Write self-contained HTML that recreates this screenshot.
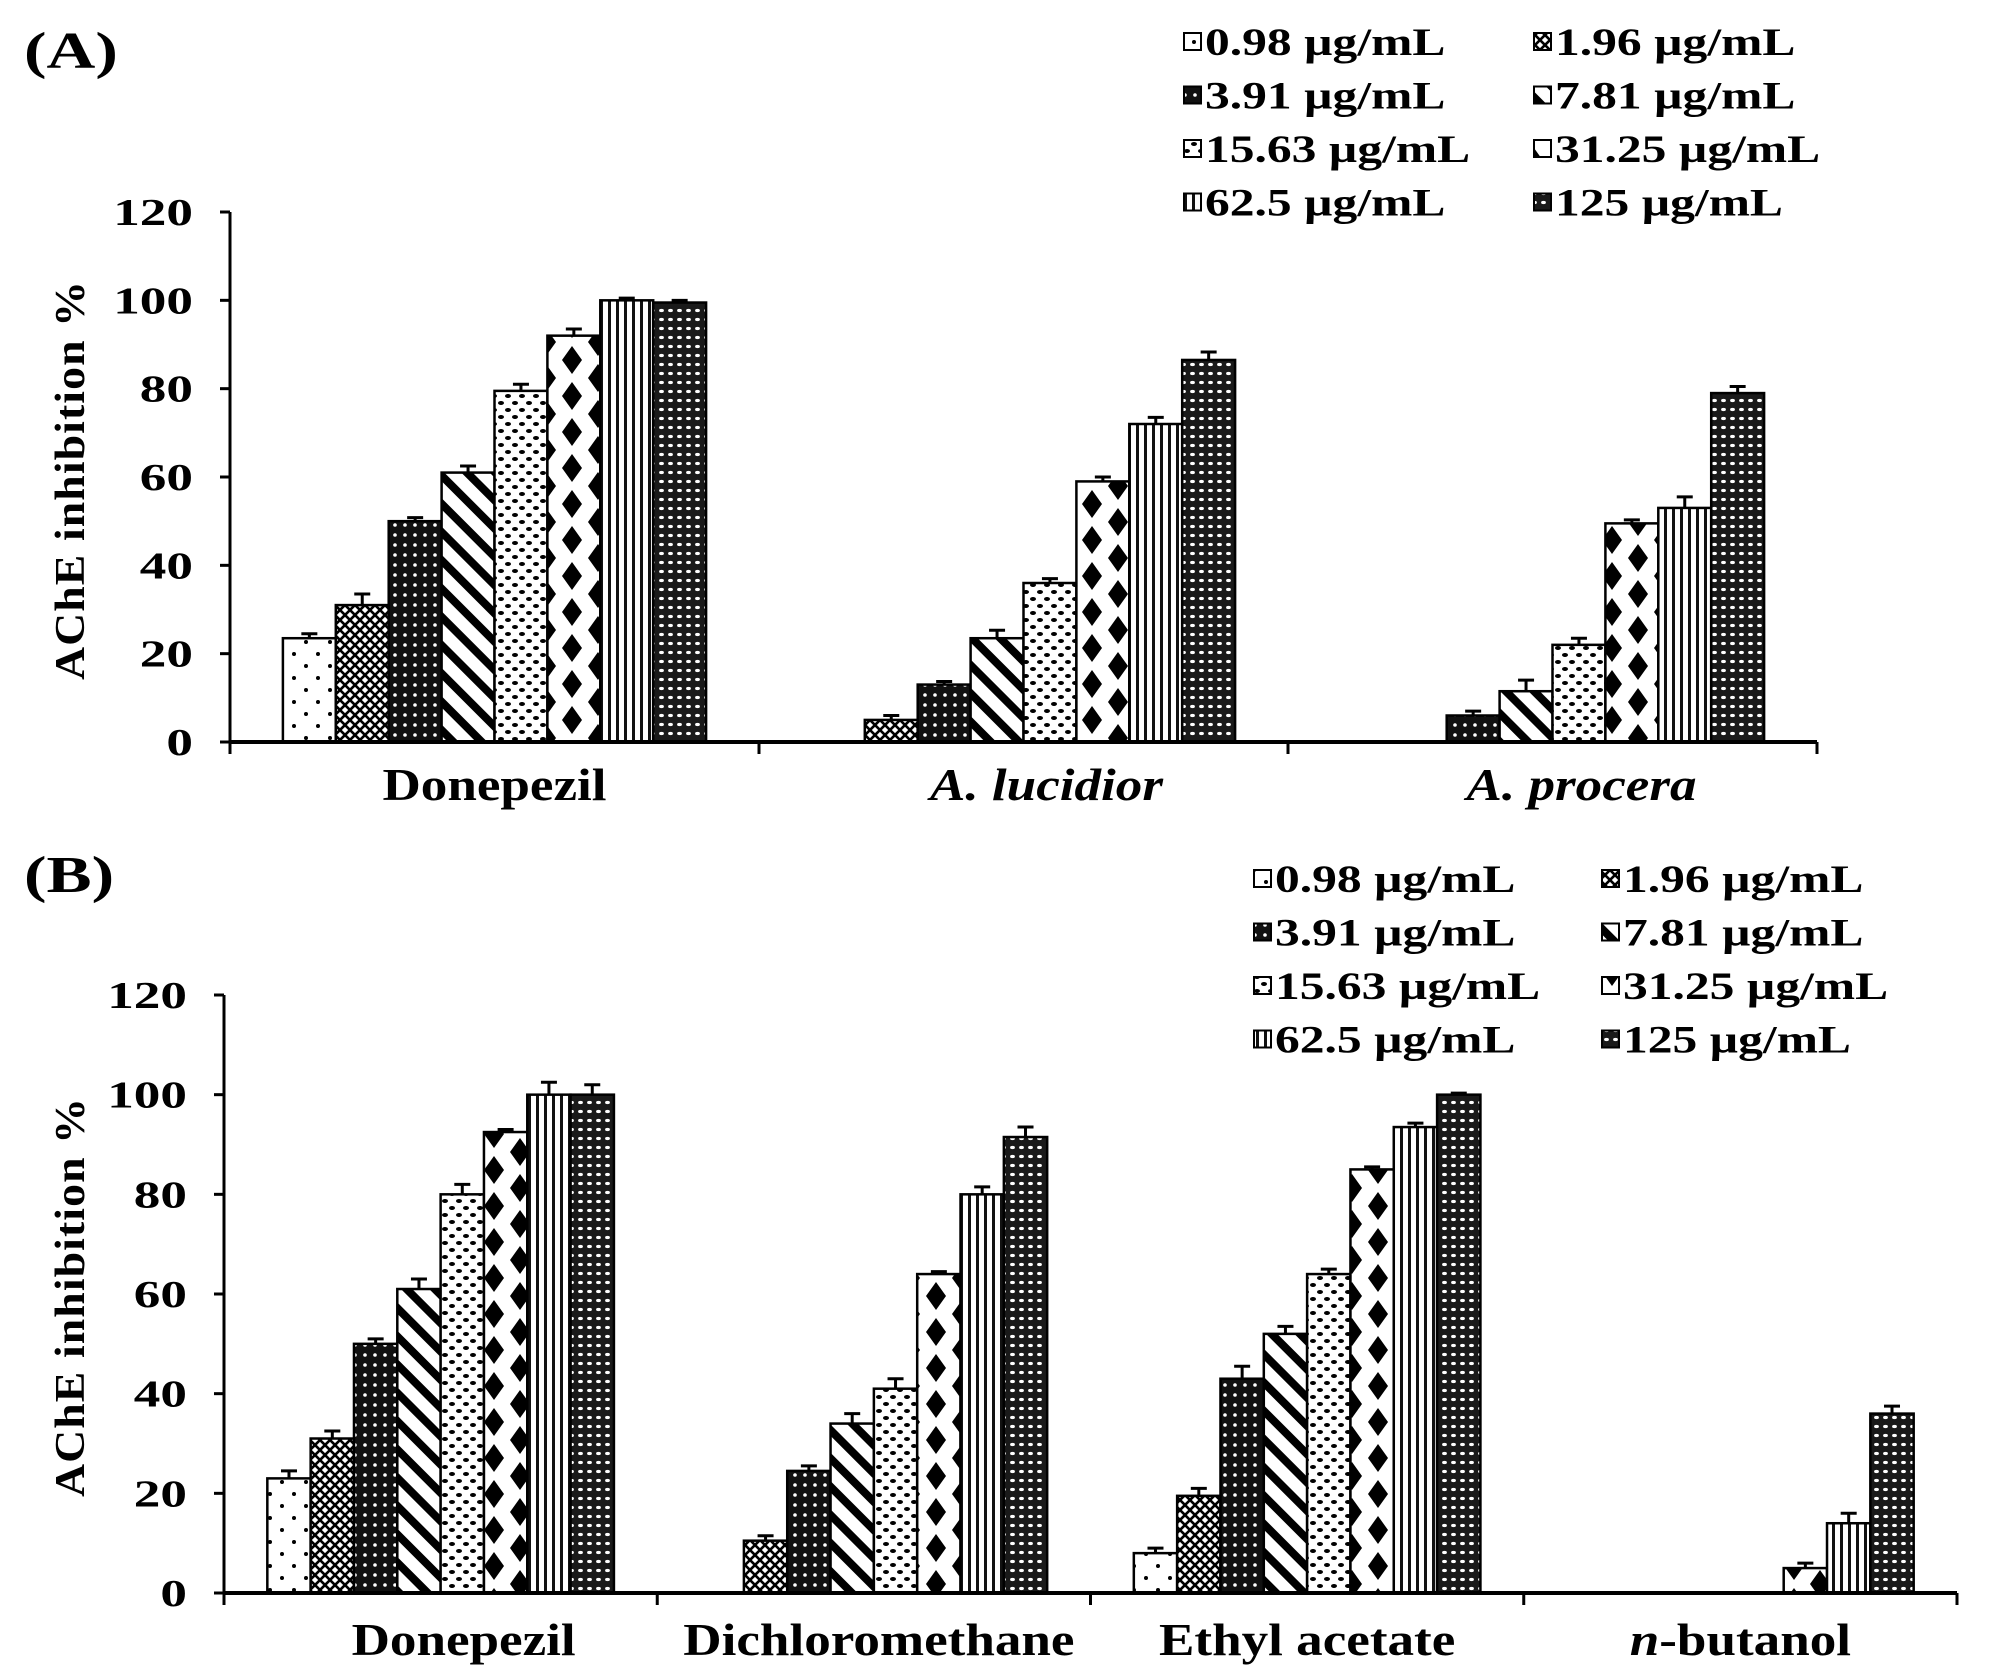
<!DOCTYPE html>
<html><head><meta charset="utf-8"><style>
html,body{margin:0;padding:0;background:#fff;}
svg{display:block;font-family:"Liberation Serif",serif;font-weight:bold;}
</style></head><body>
<svg id="chart" width="1989" height="1674" viewBox="0 0 1989 1674" xmlns="http://www.w3.org/2000/svg">
<defs>
 <pattern id="p0" width="24" height="24" patternUnits="userSpaceOnUse"><rect width="24" height="24" fill="#fff"/><circle cx="6" cy="6" r="2" fill="#000"/><circle cx="18" cy="18" r="2" fill="#000"/></pattern>
 <pattern id="p1" width="10" height="10" patternUnits="userSpaceOnUse"><rect width="10" height="10" fill="#fff"/><path d="M0,0L10,10M10,0L0,10" stroke="#000" stroke-width="2.6"/></pattern>
 <pattern id="p2" width="10" height="10" patternUnits="userSpaceOnUse"><rect width="10" height="10" fill="#111"/><circle cx="5" cy="5" r="1.8" fill="#fff"/></pattern>
 <pattern id="p3" width="20" height="20" patternUnits="userSpaceOnUse" patternTransform="rotate(45)"><rect width="20" height="20" fill="#fff"/><rect x="0" y="0" width="20" height="8" fill="#000"/></pattern>
 <pattern id="p4" width="14" height="14" patternUnits="userSpaceOnUse"><rect width="14" height="14" fill="#fff"/><ellipse cx="4" cy="4" rx="3" ry="2" fill="#000"/><ellipse cx="11" cy="11" rx="3" ry="2" fill="#000"/></pattern>
 <pattern id="p5" width="52" height="36" patternUnits="userSpaceOnUse"><rect width="52" height="36" fill="#fff"/><path d="M26,4L36,18L26,32L16,18Z" fill="#000"/><path d="M0,-14L10,0L0,14ZM52,-14L42,0L52,14ZM0,22L10,36L0,50ZM52,22L42,36L52,50Z" fill="#000"/></pattern>
 <pattern id="p6" width="8" height="8" patternUnits="userSpaceOnUse"><rect width="8" height="8" fill="#fff"/><rect x="0" width="3" height="8" fill="#111"/></pattern>
 <pattern id="p7" width="9" height="9" patternUnits="userSpaceOnUse"><rect width="9" height="9" fill="#1a1a1a"/><ellipse cx="4.5" cy="4.5" rx="2.4" ry="1.6" fill="#fff"/></pattern>
</defs>
<g id="layer"></g>
</svg>
<script>
const seriesLabels = ["0.98 µg/mL","1.96 µg/mL","3.91 µg/mL","7.81 µg/mL","15.63 µg/mL","31.25 µg/mL","62.5 µg/mL","125 µg/mL"];
const yTicks = [0,20,40,60,80,100,120];
const catsA = ["Donepezil","A. lucidior","A. procera"];
const valsA_donepezil = [23.5,31,50,61,79.5,92,100,99.5];
const valsA_lucidior = [0,5,13,23.5,36,59,72,86.5];
const valsA_procera = [0,0,6,11.5,22,49.5,53,79];
const errA_donepezil = [1,2.5,0.8,1.5,1.5,1.5,0.5,0.5];
const errA_lucidior = [0,1,0.7,1.8,1,1,1.5,1.8];
const errA_procera = [0,0,1,2.5,1.5,0.8,2.5,1.5];
const catsB = ["Donepezil","Dichloromethane","Ethyl acetate","n-butanol"];
const valsB_donepezil = [23,31,50,61,80,92.5,100,100];
const valsB_dcm = [0,10.5,24.5,34,41,64,80,91.5];
const valsB_ea = [8,19.5,43,52,64,85,93.5,100];
const valsB_but = [0,0,0,0,0,5,14,36];
const errB_donepezil = [1.5,1.5,1,2,2,0.5,2.5,2];
const errB_dcm = [0,1,1,2,2,0.5,1.5,2];
const errB_ea = [1,1.5,2.5,1.5,1,0.5,0.8,0.3];
const errB_but = [0,0,0,0,0,1,2,1.5];

const NS="http://www.w3.org/2000/svg";
const layer=document.getElementById('layer');
function mk(tag,attrs,parent){const e=document.createElementNS(NS,tag);for(const k in attrs)e.setAttribute(k,attrs[k]);(parent||layer).appendChild(e);return e;}
function stxt(parent,x,y,anchor,size,sx){return mk('text',{x:0,y:0,transform:`translate(${x},${y}) scale(${sx},1)`,'text-anchor':anchor,'font-size':size},parent);}

function panel(cfg){
  const g=mk('g',{});
  
  
  const yScale=v=>cfg.y0-(v/120)*(cfg.y0-cfg.y120);
  const gw=(cfg.x1-cfg.x0)/cfg.cats.length;
  const bw=gw*0.1;
  cfg.vals.forEach((arr,ci)=>{
    const start=cfg.x0+gw*ci+gw*0.1;
    arr.forEach((v,si)=>{
      if(v<=0)return;
      const x=start+si*bw, y=yScale(v);
      const r=mk('rect',{x:x,y:y,width:bw,height:cfg.y0-y,fill:'url(#p'+si+')',stroke:'#000','stroke-width':2.5},g);
      
      
      const e=cfg.errs[ci][si];
      if(e>0){
        const ye=yScale(v+e);
        const eb=mk('path',{d:`M${x+bw/2},${y}V${ye}M${x+bw/2-8},${ye}H${x+bw/2+8}`,stroke:'#000','stroke-width':3,fill:'none'},g);
        
        
      }
    });
  });
  const ya=mk('line',{x1:cfg.x0,y1:cfg.y120,x2:cfg.x0,y2:cfg.y0+12,stroke:'#000','stroke-width':3},g);
  
  
  const xa=mk('line',{x1:cfg.x0,y1:cfg.y0,x2:cfg.x1,y2:cfg.y0,stroke:'#000','stroke-width':4},g);
  
  
  yTicks.forEach(t=>{
    const y=yScale(t);
    mk('line',{x1:cfg.x0-10,y1:y,x2:cfg.x0,y2:y,stroke:'#000','stroke-width':3},g);
    const tl=stxt(g,cfg.x0-37,y+13,'end',38,1.4);
    tl.textContent=t;
    
    
  });
  for(let i=0;i<=cfg.cats.length;i++){
    const x=cfg.x0+gw*i;
    mk('line',{x1:x,y1:cfg.y0,x2:x,y2:cfg.y0+12,stroke:'#000','stroke-width':3},g);
  }
  cfg.cats.forEach((c,ci)=>{
    const t=stxt(g,cfg.x0+gw*(ci+0.5)+cfg.catOff[ci],cfg.catY,'middle',45,1.18);
    
    
    if(c==='n-butanol'){
      const s=mk('tspan',{'font-style':'italic'},t);s.textContent='n';
      const s2=mk('tspan',{},t);s2.textContent='-butanol';
    } else if(c.startsWith('A. ')){ t.setAttribute('font-style','italic'); t.textContent=c; }
    else t.textContent=c;
  });
  const yt=mk('text',{x:0,y:0,transform:`translate(${cfg.titleX},${(cfg.y0+cfg.y120)/2+3}) rotate(-90)`,'text-anchor':'middle','font-size':42,textLength:400,lengthAdjust:'spacingAndGlyphs','letter-spacing':'1'},g);
  yt.textContent='AChE inhibition %';
  
  
  const pl=stxt(g,cfg.labelX,cfg.labelY,'start',52,1.3);
  pl.textContent=cfg.label;
  
  
  const lg=mk('g',{},g);
  
  
  seriesLabels.forEach((s,i)=>{
    const col=i%2,row=Math.floor(i/2);
    const x=cfg.legX[col], y=cfg.legY+row*53.5;
    const ent=mk('g',{},lg);
    
    
    mk('rect',{x:x,y:y-22,width:17,height:17,fill:'url(#p'+i+')',stroke:'#000','stroke-width':2},ent);
    const t=stxt(ent,x+21,y,'start',39,1.27);
    t.textContent=s;
  });
}

panel({name:'panel-a',label:'(A)',labelX:24,labelY:68,x0:230,x1:1817,y0:742,y120:212,
  cats:catsA,catOff:[0,23,29],vals:[valsA_donepezil,valsA_lucidior,valsA_procera],errs:[errA_donepezil,errA_lucidior,errA_procera],
  catY:800,titleX:84,legX:[1184,1534],legY:55});
panel({name:'panel-b',label:'(B)',labelX:24,labelY:892,x0:224,x1:1957,y0:1593,y120:995,
  cats:catsB,catOff:[23,5,0,0],vals:[valsB_donepezil,valsB_dcm,valsB_ea,valsB_but],errs:[errB_donepezil,errB_dcm,errB_ea,errB_but],
  catY:1655,titleX:84,legX:[1254,1602],legY:892});
</script>
</body></html>
